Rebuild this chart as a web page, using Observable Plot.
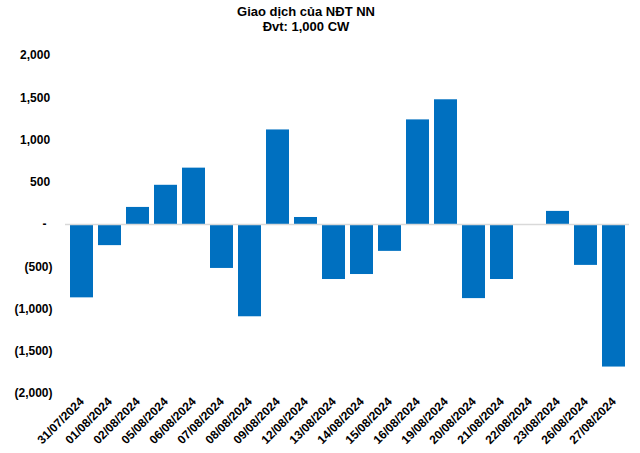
<!DOCTYPE html>
<html>
<head>
<meta charset="utf-8">
<script src="https://cdn.jsdelivr.net/npm/d3@7"></script>
<script src="https://cdn.jsdelivr.net/npm/@observablehq/plot@0.6"></script>
<style>
  body { margin: 0; background: #fff; }
  #title { width: 612px; text-align: center; padding-top: 4px; font: bold 13px/15px "Liberation Sans", Arial, sans-serif; color: #000; }
</style>
</head>
<body>
<div id="title">Giao dịch của NĐT NN<br>Đvt: 1,000 CW</div>
<div id="chart"></div>
<script>
const dates = ["31/07/2024","01/08/2024","02/08/2024","05/08/2024","06/08/2024","07/08/2024","08/08/2024","09/08/2024","12/08/2024","13/08/2024","14/08/2024","15/08/2024","16/08/2024","19/08/2024","20/08/2024","21/08/2024","22/08/2024","23/08/2024","26/08/2024","27/08/2024"];
const values = [-868, -250, 202, 464, 667, -520, -1092, 1119, 83, -651, -592, -318, 1238, 1476, -877, -651, 0, 155, -484, -1687];
const yTicks = [-2000, -1500, -1000, -500, 0, 500, 1000, 1500, 2000];

const data = dates.map((d, i) => ({date: d, value: values[i]}));
const num = d3.format(",");
const fmt = d => d === 0 ? "-\u2002" : d < 0 ? `(${num(-d)})` : num(d) + "\u2009";

const chart = Plot.plot({
  width: 640,
  height: 419,
  marginTop: 21,
  marginBottom: 60,
  marginLeft: 65,
  marginRight: 11,
  style: {fontFamily: "'Liberation Sans', Arial, sans-serif", fontSize: "12px", fontWeight: "bold", color: "#000", background: "#fff"},
  x: {domain: dates, paddingInner: 0.18, paddingOuter: 0.09, label: null},
  y: {domain: [-2000, 2000], label: null},
  marks: [
    Plot.axisY({ticks: yTicks, tickSize: 0, tickPadding: 13, tickFormat: fmt, label: null}),
    Plot.axisX({tickSize: 0, tickRotate: -45, tickPadding: 6, label: null}),
    Plot.barY(data, {x: "date", y: "value", fill: "#0070C0"}),
    Plot.ruleY([0], {stroke: "#d9d9d9", strokeWidth: 1.5})
  ]
});
document.getElementById("chart").appendChild(chart);
</script>
</body>
</html>
